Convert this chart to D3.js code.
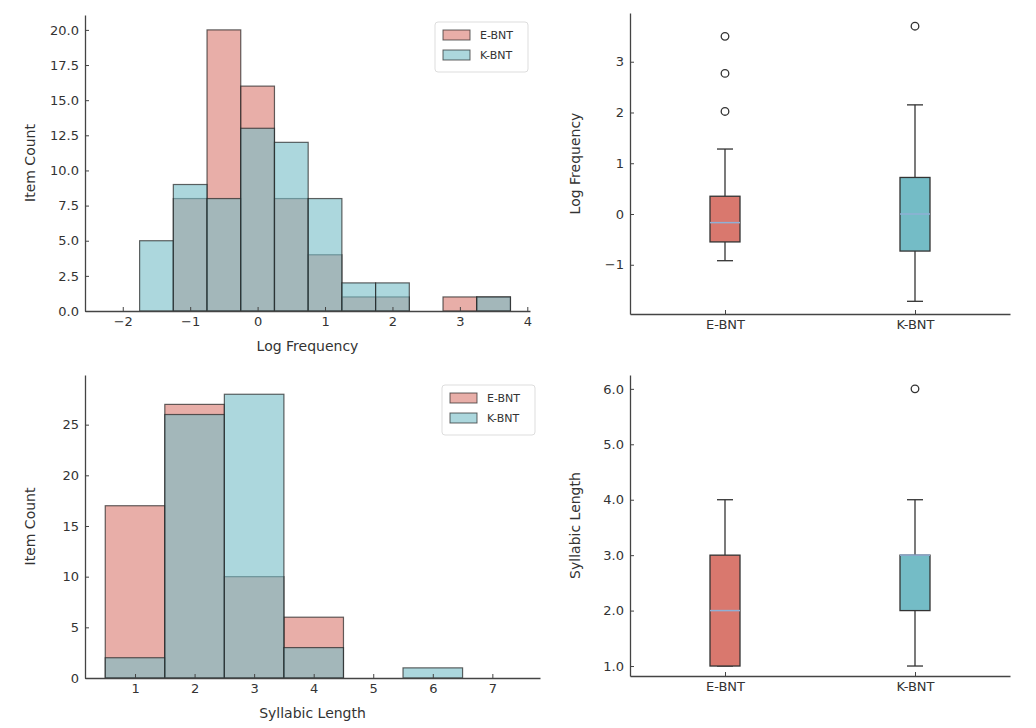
<!DOCTYPE html>
<html><head><meta charset="utf-8">
<script src="https://cdn.jsdelivr.net/npm/d3@7"></script>
<style>body{margin:0;background:#fff}text{font-family:"DejaVu Sans",sans-serif;fill:#333}</style>
</head><body><svg id="c" width="1036" height="728"></svg>
<script>
// histogram bins: [x0, x1, count]
var freqE = [[-1.25,-0.75,8],[-0.75,-0.25,20],[-0.25,0.25,16],[0.25,0.75,8],[0.75,1.25,4],[1.25,1.75,1],[1.75,2.25,1],[2.75,3.25,1],[3.25,3.75,1]];
var freqK = [[-1.75,-1.25,5],[-1.25,-0.75,9],[-0.75,-0.25,8],[-0.25,0.25,13],[0.25,0.75,12],[0.75,1.25,8],[1.25,1.75,2],[1.75,2.25,2],[3.25,3.75,1]];
var sylE = [[0.5,1.5,17],[1.5,2.5,27],[2.5,3.5,10],[3.5,4.5,6]];
var sylK = [[0.5,1.5,2],[1.5,2.5,26],[2.5,3.5,28],[3.5,4.5,3],[5.5,6.5,1]];
var groups = ["E-BNT","K-BNT"];
var colors = ["#d9786e","#74bcc6"];
// box stats: lowWhisker, q1, median, q3, highWhisker, outliers
var freqBox = [[-0.92,-0.55,-0.17,0.35,1.28,[2.02,2.77,3.5]],[-1.72,-0.73,0,0.72,2.15,[3.7]]];
var sylBox = [[1,1,2,3,4,[]],[1,2,3,3,4,[6]]];

var svg = d3.select("#c");

function axes(g, x, y, xt, yt, xlabel, ylabel, yfmt, xfmt) {
  var xa = d3.axisBottom(x).tickValues(xt).tickSizeInner(-4).tickSizeOuter(0).tickPadding(6);
  if (xfmt) xa.tickFormat(xfmt);
  var ya = d3.axisLeft(y).tickValues(yt).tickSizeInner(-4).tickSizeOuter(0).tickPadding(6);
  if (yfmt) ya.tickFormat(yfmt);
  var gx = g.append("g").attr("transform","translate(0,"+y.range()[0]+")").call(xa);
  var gy = g.append("g").attr("transform","translate("+x.range()[0]+",0)").call(ya);
  [gx,gy].forEach(function(a){
    a.selectAll("text").style("font-size","13px").style("fill","#333");
    a.select(".domain").attr("stroke","#444").attr("stroke-width",1.3);
    a.selectAll("line").attr("stroke","#444");
  });
  var xm = (x.range()[0]+x.range()[1])/2, ym = (y.range()[0]+y.range()[1])/2;
  g.append("text").attr("x",xm).attr("y",y.range()[0]+40).attr("text-anchor","middle").style("font-size","14px").text(xlabel);
  g.append("text").attr("transform","translate("+(x.range()[0]-50)+","+ym+") rotate(-90)").attr("text-anchor","middle").style("font-size","14px").text(ylabel);
}
var minus = function(d){ return String(d).replace("-","\u2212"); };

function hist(x, y, dE, dK, lx, ly) {
  [dE, dK].forEach(function(d,i){
    svg.append("g").selectAll("rect").data(d).join("rect")
      .attr("x",function(b){return x(b[0]);}).attr("width",function(b){return x(b[1])-x(b[0]);})
      .attr("y",function(b){return y(b[2]);}).attr("height",function(b){return y(0)-y(b[2]);})
      .attr("fill",colors[i]).attr("fill-opacity",0.6).attr("stroke","#222").attr("stroke-opacity",0.7).attr("stroke-width",1.2);
  });
  var lg = svg.append("g").attr("transform","translate("+lx+","+ly+")");
  lg.append("rect").attr("width",93).attr("height",50).attr("fill","#fff").attr("stroke","#ddd").attr("rx",3);
  groups.forEach(function(n,i){
    lg.append("rect").attr("x",8).attr("y",8+i*20).attr("width",27).attr("height",10).attr("fill",colors[i]).attr("fill-opacity",0.6).attr("stroke","#222").attr("stroke-opacity",0.7);
    lg.append("text").attr("x",45).attr("y",17+i*20).style("font-size","11px").text(n);
  });
}

function box(x, y, stats) {
  stats.forEach(function(s,i){
    var cx = x(groups[i]), w = 30;
    var g = svg.append("g");
    g.append("line").attr("x1",cx).attr("x2",cx).attr("y1",y(s[0])).attr("y2",y(s[1])).attr("stroke","#333").attr("stroke-width",1.3);
    g.append("line").attr("x1",cx).attr("x2",cx).attr("y1",y(s[3])).attr("y2",y(s[4])).attr("stroke","#333").attr("stroke-width",1.3);
    [s[0],s[4]].forEach(function(v){
      g.append("line").attr("x1",cx-8).attr("x2",cx+8).attr("y1",y(v)).attr("y2",y(v)).attr("stroke","#333").attr("stroke-width",1.3);
    });
    g.append("rect").attr("x",cx-w/2).attr("width",w).attr("y",y(s[3])).attr("height",y(s[1])-y(s[3]))
      .attr("fill",colors[i]).attr("stroke","#333").attr("stroke-width",1.3);
    g.append("line").attr("x1",cx-w/2).attr("x2",cx+w/2).attr("y1",y(s[2])).attr("y2",y(s[2])).attr("stroke","#8fb0d6").attr("stroke-width",1.5);
    g.selectAll("circle").data(s[5]).join("circle").attr("cx",cx).attr("cy",function(v){return y(v);}).attr("r",3.8)
      .attr("fill","none").attr("stroke","#333").attr("stroke-width",1.3);
  });
}

// top-left
var x1 = d3.scaleLinear().domain([-2.56,4.04]).range([85,530]);
var y1 = d3.scaleLinear().domain([0,21.06]).range([311,15]);
hist(x1, y1, freqE, freqK, 435, 22);
axes(svg.append("g"), x1, y1, [-2,-1,0,1,2,3,4], d3.range(0,20.1,2.5), "Log Frequency", "Item Count", d3.format(".1f"), minus);

// top-right
var x2 = d3.scalePoint().domain(groups).range([630,1010]).padding(0.5);
var y2 = d3.scaleLinear().domain([-1.97,3.96]).range([314,13]);
box(x2, y2, freqBox);
axes(svg.append("g"), x2, y2, groups, [-1,0,1,2,3], "", "Log Frequency", minus);

// bottom-left
var x3 = d3.scaleLinear().domain([0.16,7.8]).range([85,540]);
var y3 = d3.scaleLinear().domain([0,29.9]).range([678,375]);
hist(x3, y3, sylE, sylK, 442, 385);
axes(svg.append("g"), x3, y3, [1,2,3,4,5,6,7], [0,5,10,15,20,25], "Syllabic Length", "Item Count");

// bottom-right
var x4 = d3.scalePoint().domain(groups).range([630,1010]).padding(0.5);
var y4 = d3.scaleLinear().domain([0.82,6.25]).range([676,375]);
box(x4, y4, sylBox);
axes(svg.append("g"), x4, y4, groups, [1,2,3,4,5,6], "", "Syllabic Length");
</script></body></html>
